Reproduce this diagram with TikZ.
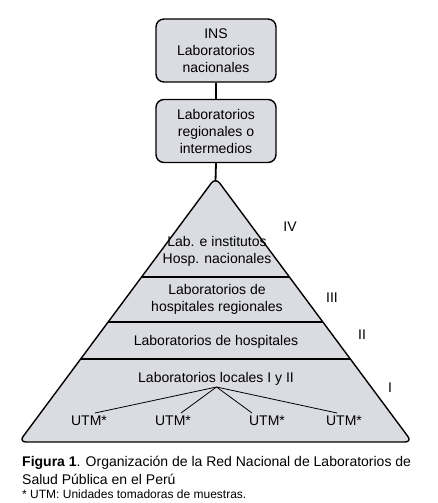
\documentclass[tikz,border=0pt]{standalone}
\usepackage{fontspec}
\setmainfont{Liberation Sans}
\usetikzlibrary{calc}
\definecolor{pyrfill}{RGB}{219,220,226}
\tikzset{
  lvlbox/.style={draw, line width=1.4pt, fill=pyrfill, rounded corners=8pt, minimum width=120pt, minimum height=63pt, align=center, inner sep=0pt, font=\fontsize{14}{17}\selectfont},
  link/.style={line width=1.8pt},
  divider/.style={line width=1.4pt},
  twig/.style={line width=0.8pt},
  lbl/.style={align=center, inner sep=0pt, font=\fontsize{14}{17}\selectfont},
  captext/.style={anchor=base west, inner sep=0pt, font=\fontsize{14}{19}\selectfont},
}
\begin{document}
\begin{tikzpicture}[x=1pt,y=-1pt]
\useasboundingbox (0,0) rectangle (438,503);
% boxes
\node[lvlbox] (ins) at (216,50.5) {INS\\Laboratorios\\nacionales};
\node[lvlbox] (reg) at (216,131) {Laboratorios\\regionales o\\intermedios};
% pyramid
\coordinate (A) at (215.5,177.5);
\coordinate (B) at (19,442);
\coordinate (C) at (412,442);
\draw[line width=1.4pt, fill=pyrfill, rounded corners=7pt] (A) -- (C) -- (B) -- cycle;
\coordinate (apex) at (215.5,181);
\draw[link] (ins.south) -- (reg.north);
\draw[link] (reg.south) -- (apex);
% dividers
\draw[divider] ($(A)!0.376!(B)$) -- ($(A)!0.376!(C)$);
\draw[divider] ($(A)!0.546!(B)$) -- ($(A)!0.546!(C)$);
\draw[divider] ($(A)!0.686!(B)$) -- ($(A)!0.686!(C)$);
% level texts
\node[lbl] (t4) at (217,251) {Lab. e institutos\\Hosp. nacionales};
\node[lbl] (t3) at (217,299) {Laboratorios de\\hospitales regionales};
\node[lbl] (t2) at (216,342) {Laboratorios de hospitales};
\node[lbl] (t1) at (216,379) {Laboratorios locales I y II};
% roman numerals
\node[lbl] (r4) at (290,227) {IV};
\node[lbl] (r3) at (332,298) {III};
\node[lbl] (r2) at (362,335) {II};
\node[lbl] (r1) at (390,388) {I};
% UTM
\node[lbl] (u1) at (89,421) {UTM*};
\node[lbl] (u2) at (173,421) {UTM*};
\node[lbl] (u3) at (267,421) {UTM*};
\node[lbl] (u4) at (344,421) {UTM*};
\coordinate (root) at (216.5,387);
\coordinate (e1) at (95,413);
\coordinate (e2) at (181,413);
\coordinate (e3) at (252,413);
\coordinate (e4) at (337,413);
\draw[twig] (root) -- (e1);
\draw[twig] (root) -- (e2);
\draw[twig] (root) -- (e3);
\draw[twig] (root) -- (e4);
% caption
\node[captext] (cap1) at (22,466) {\textbf{Figura 1}. Organización de la Red Nacional de Laboratorios de};
\node[captext] (cap2) at (22,484) {Salud Pública en el Perú};
\node[captext, font=\fontsize{12}{14}\selectfont] (cap3) at (22,498) {* UTM: Unidades tomadoras de muestras.};
\end{tikzpicture}
\end{document}
